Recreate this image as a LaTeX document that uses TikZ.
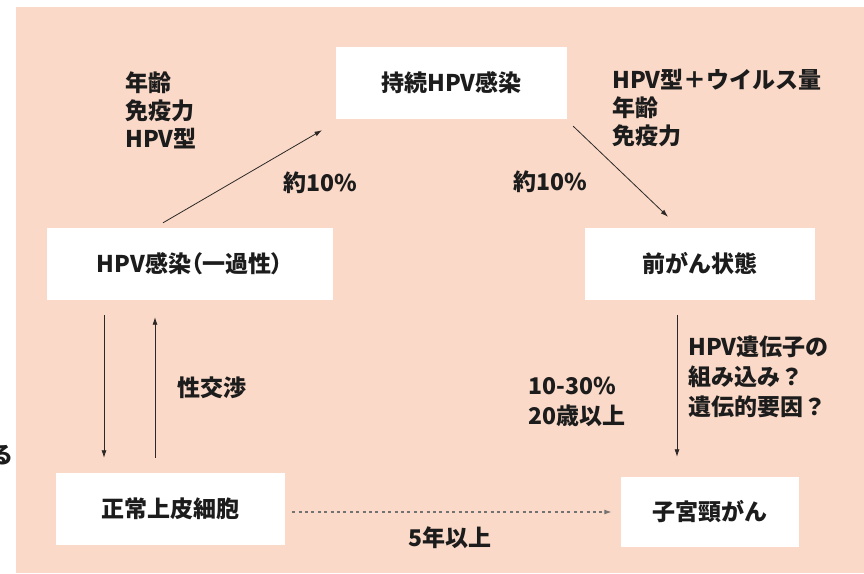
\documentclass[tikz,border=0pt]{standalone}
\usepackage{fontspec}
\setmainfont{Noto Sans CJK JP}
\newfontfamily\jpprop{Noto Sans CJK JP}[RawFeature=+palt]
\usetikzlibrary{arrows.meta}
\definecolor{bgpink}{RGB}{250,217,200}
\definecolor{txt}{RGB}{28,28,28}
\definecolor{arr}{RGB}{45,40,38}
\begin{document}
\begin{tikzpicture}[x=1pt,y=-1pt,
  box/.style={fill=white,draw=none,minimum height=72pt,inner sep=0pt,font=\fontsize{23}{26}\selectfont\bfseries,text=txt},
  lbl/.style={font=\fontsize{23}{28}\selectfont\bfseries,text=txt,align=left,inner sep=0pt,anchor=west},
  arrowline/.style={draw=arr,line width=0.8pt,-{Latex[length=7.5pt,width=5pt]}},
  dotline/.style={draw=gray!90!black,line width=1.3pt,dash pattern=on 3pt off 3.4pt,-{Latex[length=7.5pt,width=5pt]}}
]
\useasboundingbox (0,0) rectangle (864,573);
\fill[bgpink] (16,7) rectangle (864,573);

\node[box,minimum width=231pt] (top) at (451.5,83) {持続HPV感染};
\node[box,minimum width=286pt,font=\fontsize{23}{26}\jpprop\bfseries] (hpv) at (190,264) {HPV感染（一過性）};
\node[box,minimum width=230pt] (pre) at (700,264) {前がん状態};
\node[box,minimum width=229pt] (normal) at (170.5,509) {正常上皮細胞};
\node[box,minimum width=178pt,minimum height=70pt] (cancer) at (710,512) {子宮頸がん};

\draw[arrowline] ([xshift=-27pt,yshift=5pt]hpv.north) -- ([xshift=-129.5pt,yshift=-11pt]top.south);
\draw[arrowline] ([xshift=6pt,yshift=-7pt]top.south east) -- ([xshift=-32pt,yshift=11pt]pre.north);
\draw[arrowline] ([xshift=-86pt,yshift=-15pt]hpv.south) -- ([xshift=-66.5pt,yshift=15pt]normal.north);
\draw[arrowline] ([xshift=-15.5pt,yshift=15pt]normal.north) -- ([xshift=-35pt,yshift=-17pt]hpv.south);
\draw[arrowline] ([xshift=-23pt,yshift=-15pt]pre.south) -- ([xshift=-33pt,yshift=20pt]cancer.north);
\draw[dotline] ([xshift=7pt,yshift=-3pt]normal.east) -- ([xshift=-9pt]cancer.west);

\node[lbl] (lt) at (125,110) {年齢\\免疫力\\HPV型};
\node[lbl] (rt) at (612,108) {HPV型＋ウイルス量\\年齢\\免疫力};
\node[lbl] (p1) at (283,183) {約10\%};
\node[lbl] (p2) at (513,182) {約10\%};
\node[lbl] (sx) at (177,388) {性交渉};
\node[lbl,font=\fontsize{23}{30}\selectfont\bfseries] (gene) at (688,377) {HPV遺伝子の\\組み込み？\\遺伝的要因？};
\node[lbl,font=\fontsize{23}{30}\selectfont\bfseries] (age) at (528,402) {10-30\%\\20歳以上};
\node[font=\fontsize{23}{26}\selectfont\bfseries,text=txt,inner sep=0pt] (yr) at (450,538) {5年以上};
\node[font=\fontsize{23}{26}\selectfont\bfseries,text=txt,inner sep=0pt] (ru) at (2,455) {る};
\end{tikzpicture}
\end{document}
